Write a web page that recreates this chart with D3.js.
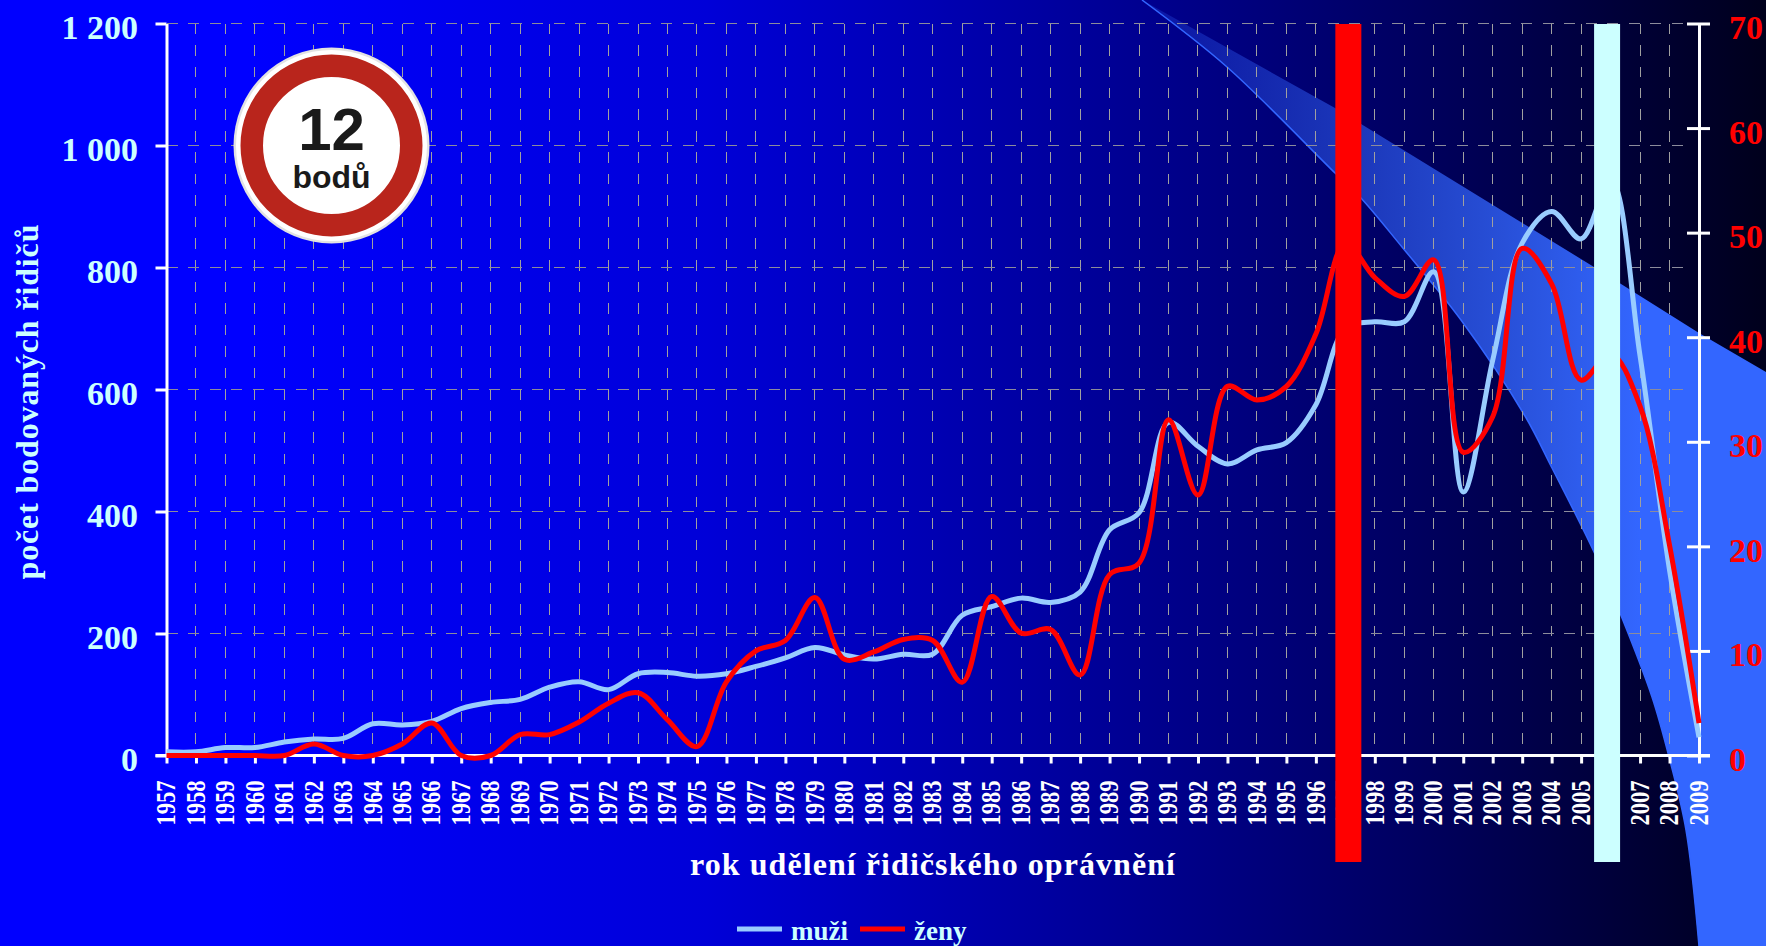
<!DOCTYPE html>
<html>
<head>
<meta charset="utf-8">
<script src="https://cdn.jsdelivr.net/npm/d3@7"></script>
<style>
  html, body { margin: 0; padding: 0; background: #000; overflow: hidden; }
  svg { display: block; }
  text { font-family: "Liberation Serif", serif; font-weight: bold; }
</style>
</head>
<body>
<div id="chart"></div>
<script>
// chart data
var years = d3.range(1957, 2010);
var muzi = [6, 6, 13, 13, 22, 27, 28, 52, 50, 56, 77, 87, 92, 112, 121, 108, 134, 136, 130, 134,
  146, 160, 177, 165, 158, 166, 166, 230, 244, 258, 251, 268, 370, 398, 546, 507, 478, 501, 513, 575,
  700, 711, 711, 793, 432, 648, 840, 892, 847, 945, 655, 304, 30];
var zeny = [0, 0, 0, 0, 0, 1.1, 0, 0, 1.1, 3.1, 0, 0, 2, 2, 3.2, 5, 6, 3.4, 0.85, 7.05,
  10, 11, 15.1, 9.2, 9.9, 11.1, 11, 7, 15.2, 11.7, 12.05, 7.7, 17.3, 18.4, 32.1, 24.9, 35.3, 34, 35.3, 40.3,
  49, 45.7, 43.9, 47.4, 29, 32.4, 48.5, 45.1, 35.9, 38.4, 33.4, 20.1, 3.1];
var leftTicks = [0, 200, 400, 600, 800, 1000, 1200];
var rightTicks = [0, 10, 20, 30, 40, 50, 60, 70];
var highlighted = [{ year: 1997, color: "#ff0000" }, { year: 2006, color: "#ccffff" }];
var legendItems = [{ name: "muži", color: "#99ccff" }, { name: "ženy", color: "#ff0000" }];

// background swoosh outline (decoration, page pixels)
var swooshTop = [[1142, 0], [1335, 108], [1594, 267], [1699, 333], [1766, 372], [1766, 946]];
var swooshBottom = [[1699, 946], [1686, 830], [1669, 757], [1652, 697], [1620, 613], [1594, 552],
  [1552, 468], [1525, 416], [1461, 320], [1402, 247], [1360, 197], [1335, 173], [1227, 67], [1142, 0]];

// the two bars do not sit centred on their year in the picture
var barOffsets = { 1997: -10, 2006: -16.5 };

var svgWidth = 1766;
var svgHeight = 946;

var margin = { top: 23.5, right: 67, bottom: 190.5, left: 166.5 };
var width = svgWidth - margin.left - margin.right;
var height = svgHeight - margin.top - margin.bottom;

var svg = d3.select("#chart")
  .append("svg")
  .attr("width", svgWidth)
  .attr("height", svgHeight);

var defs = svg.append("defs");

var bgGrad = defs.append("linearGradient").attr("id", "bg");
bgGrad.selectAll("stop")
  .data([[0.14, "#0000ff"], [0.4, "#0000d8"], [0.62, "#000098"], [0.8, "#000060"], [1, "#00001c"]])
  .enter()
  .append("stop")
  .attr("offset", d => d[0])
  .attr("stop-color", d => d[1]);

var swooshGrad = defs.append("linearGradient")
  .attr("id", "swoosh")
  .attr("gradientUnits", "userSpaceOnUse")
  .attr("x1", 1142).attr("x2", 1640)
  .attr("y1", 0).attr("y2", 0);
swooshGrad.append("stop").attr("offset", 0).attr("stop-color", "#3366ff").attr("stop-opacity", 0.2);
swooshGrad.append("stop").attr("offset", 1).attr("stop-color", "#3366ff").attr("stop-opacity", 1);

svg.append("rect")
  .attr("width", svgWidth)
  .attr("height", svgHeight)
  .attr("fill", "url(#bg)");

var plainLine = d3.line();
var swooshLine = d3.line().curve(d3.curveCatmullRom);

svg.append("path")
  .attr("d", plainLine(swooshTop) + "L" + swooshLine(swooshBottom).slice(1) + "Z")
  .attr("fill", "url(#swoosh)");

svg.append("path")
  .attr("d", swooshLine(swooshBottom))
  .attr("fill", "none")
  .attr("stroke", "#3366ff")
  .attr("stroke-width", 1.5);

var chartGroup = svg.append("g")
  .attr("transform", `translate(${margin.left}, ${margin.top})`);

var xScale = d3.scalePoint()
  .domain(years)
  .range([0, width]);

var yLeft = d3.scaleLinear()
  .domain([0, 1200])
  .range([height, 0]);

var yRight = d3.scaleLinear()
  .domain([0, 70])
  .range([height, 0]);

// grid
chartGroup.selectAll(".vgrid")
  .data(years.slice(1))
  .enter()
  .append("line")
  .attr("class", "vgrid")
  .attr("x1", d => xScale(d))
  .attr("x2", d => xScale(d))
  .attr("y1", 0)
  .attr("y2", height)
  .attr("stroke", "#a0a0a0")
  .attr("shape-rendering", "crispEdges")
  .attr("stroke-dasharray", "10.5 11");

chartGroup.selectAll(".hgrid")
  .data(leftTicks.slice(1))
  .enter()
  .append("line")
  .attr("class", "hgrid")
  .attr("x1", 0)
  .attr("x2", width - 6)
  .attr("y1", d => yLeft(d))
  .attr("y2", d => yLeft(d))
  .attr("stroke", "#8c8c9c")
  .attr("shape-rendering", "crispEdges")
  .attr("stroke-dasharray", "11 10.5");

// axes
var spaceFormat = d3.formatLocale({ decimal: ",", thousands: " ", grouping: [3], currency: ["", ""] }).format(",");

var bottomAxis = d3.axisBottom(xScale).tickSize(8).tickSizeOuter(0);
var leftAxis = d3.axisLeft(yLeft).tickValues(leftTicks).tickFormat(spaceFormat).tickSize(11).tickSizeOuter(0);
var rightAxis = d3.axisRight(yRight).tickValues(rightTicks).tickSize(11).tickSizeOuter(0);

var xAxisGroup = chartGroup.append("g")
  .attr("transform", `translate(0, ${height})`)
  .call(bottomAxis);

xAxisGroup.select(".domain")
  .attr("d", "M-11,0H" + (width + 11))
  .attr("stroke", "#fff")
  .attr("stroke-width", 3);

xAxisGroup.selectAll(".tick line")
  .attr("stroke", "#fff")
  .attr("stroke-width", 3);

xAxisGroup.selectAll(".tick text")
  .attr("x", 0)
  .attr("y", 0)
  .attr("dy", "0.3em")
  .attr("text-anchor", "end")
  .attr("transform", "translate(0, 25) rotate(-90) scale(1, 1.22)")
  .attr("fill", "#fff")
  .style("font-family", '"Liberation Serif", serif')
  .style("font-size", "22.5px");

var leftGroup = chartGroup.append("g").call(leftAxis);

leftGroup.select(".domain").attr("stroke", "#fff").attr("stroke-width", 3);
leftGroup.selectAll(".tick line").attr("stroke", "#fff").attr("stroke-width", 3);
leftGroup.selectAll(".tick text")
  .attr("x", -28.5)
  .attr("dy", 0)
  .attr("y", 15)
  .attr("fill", "#ccffff")
  .style("font-family", '"Liberation Serif", serif')
  .style("font-size", "34px");

var rightGroup = chartGroup.append("g")
  .attr("transform", `translate(${width}, 0)`)
  .call(rightAxis);

rightGroup.select(".domain").attr("stroke", "#fff").attr("stroke-width", 3);
rightGroup.selectAll(".tick line")
  .attr("x1", -12)
  .attr("x2", 11)
  .attr("stroke", "#fff")
  .attr("stroke-width", 3);
rightGroup.selectAll(".tick text")
  .attr("x", 30)
  .attr("dy", 0)
  .attr("y", 15)
  .attr("fill", "#ff0000")
  .style("font-family", '"Liberation Serif", serif')
  .style("font-size", "34px");

// series
var lineMuzi = d3.line()
  .x((d, i) => xScale(years[i]))
  .y(d => yLeft(d))
  .curve(d3.curveCatmullRom);

var lineZeny = d3.line()
  .x((d, i) => xScale(years[i]))
  .y(d => yRight(d))
  .curve(d3.curveCatmullRom);

chartGroup.append("path")
  .attr("d", lineMuzi(muzi))
  .attr("fill", "none")
  .attr("stroke", "#99ccff")
  .attr("stroke-width", 5);

chartGroup.append("path")
  .attr("d", lineZeny(zeny))
  .attr("fill", "none")
  .attr("stroke", "#ff0000")
  .attr("stroke-width", 5);

// highlighted years
chartGroup.selectAll(".yearBar")
  .data(highlighted)
  .enter()
  .append("rect")
  .attr("class", "yearBar")
  .attr("x", d => xScale(d.year) + barOffsets[d.year])
  .attr("y", 0.5)
  .attr("width", 26)
  .attr("height", height + 106)
  .attr("fill", d => d.color);

// traffic sign
var sign = svg.append("g").attr("transform", "translate(331.5, 145.5)");
sign.append("circle").attr("r", 98).attr("fill", "#e2e2e2");
sign.append("circle").attr("r", 95.5).attr("fill", "#fff");
sign.append("circle").attr("r", 79.75).attr("fill", "none").attr("stroke", "#b9251c").attr("stroke-width", 22.5);
sign.append("text")
  .attr("text-anchor", "middle")
  .attr("y", 4.5)
  .attr("fill", "#1a1a1a")
  .style("font-family", '"Liberation Sans", sans-serif')
  .style("font-size", "60px")
  .text("12");
sign.append("text")
  .attr("text-anchor", "middle")
  .attr("y", 42)
  .attr("fill", "#1a1a1a")
  .style("font-family", '"Liberation Sans", sans-serif')
  .style("font-size", "32px")
  .text("bodů");

// titles
svg.append("text")
  .attr("transform", "translate(38, 402) rotate(-90)")
  .attr("text-anchor", "middle")
  .attr("fill", "#ccffff")
  .attr("textLength", 355)
  .style("font-size", "32px")
  .text("počet bodovaných řidičů");

svg.append("text")
  .attr("x", 690)
  .attr("y", 875)
  .attr("fill", "#fff")
  .attr("textLength", 485)
  .style("font-size", "32px")
  .text("rok udělení řidičského oprávnění");

// legend
var legend = svg.selectAll(".legendItem")
  .data(legendItems)
  .enter()
  .append("g")
  .attr("class", "legendItem")
  .attr("transform", (d, i) => `translate(${737 + i * 123}, 929)`);

legend.append("path")
  .attr("d", plainLine([[0, 0], [45, 0]]))
  .attr("stroke", d => d.color)
  .attr("stroke-width", 5);

legend.append("text")
  .attr("x", 54)
  .attr("y", 11)
  .attr("fill", "#ccffff")
  .style("font-size", "27px")
  .text(d => d.name);
</script>
</body>
</html>
